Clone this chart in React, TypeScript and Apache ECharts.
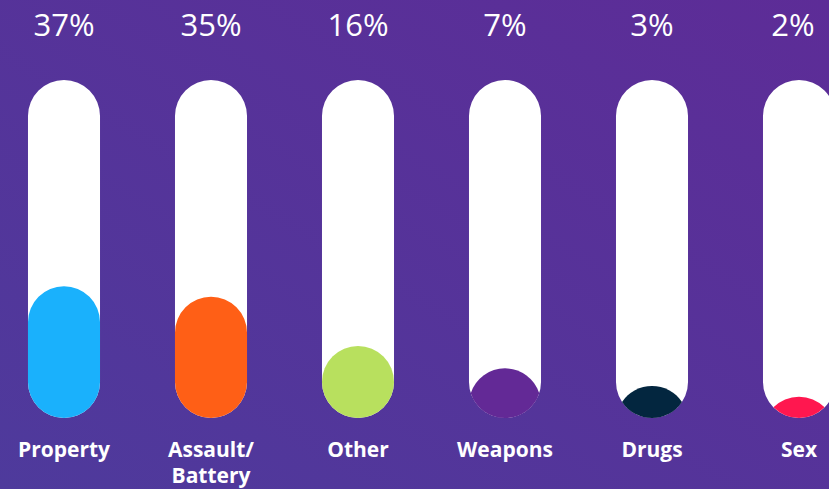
import React, { useEffect, useRef } from "react";
import * as echarts from "echarts";

const categories = ["Property", "Assault/\nBattery", "Other", "Weapons", "Drugs", "Sex"];
const shares = [37, 35, 16, 7, 3, 2];
// visible fill level of each tube, in % of tube height
const fillLevels = [39, 35.9, 21.3, 14.7, 9.5, 6.3];
const fillColors = ["#1ab1fc", "#ff5f16", "#b8e05e", "#632996", "#03263f", "#ff174f"];

export default function App() {
  const ref = useRef<HTMLDivElement>(null);
  useEffect(() => {
    if (!ref.current) return;
    const chart = echarts.init(ref.current, null, { renderer: "svg" });
    const tubeRatio = 0.49;
    const chartWidth = chart.getWidth();
    chart.setOption({
      animation: false,
      backgroundColor: {
        type: "linear",
        x: 0,
        y: 1,
        x2: 1,
        y2: 0,
        colorStops: [
          { offset: 0, color: "#4e3a9c" },
          { offset: 1, color: "#5d2c97" },
        ],
      },
      grid: { left: -9.5, width: 882, top: 80, bottom: 71, outerBoundsMode: "none", containLabel: false },
      xAxis: {
        type: "category",
        data: categories,
        axisLine: { show: false },
        axisTick: { show: false },
        axisLabel: {
          interval: 0,
          color: "#ffffff",
          fontFamily: "Open Sans",
          fontWeight: "bold",
          fontSize: 21,
          lineHeight: 26,
          margin: 18,
        },
      },
      yAxis: { type: "value", min: 0, max: 100, show: false },
      series: [
        {
          type: "custom",
          data: categories.map((_, i) => [i, 100]),
          renderItem: (params: any, api: any) => {
            const i = api.value(0);
            const [x, yb] = api.coord([i, 0]);
            const yt = api.coord([i, api.value(1)])[1];
            const w = api.size([1, 0])[0] * tubeRatio;
            return {
              type: "group",
              children: [
                {
                  type: "rect",
                  shape: { x: x - w / 2, y: yt, width: w, height: yb - yt, r: w / 2 },
                  style: { fill: "#ffffff" },
                },
                {
                  type: "text",
                  x: Math.min(x, chartWidth - 36),
                  y: 24,
                  style: {
                    text: shares[params.dataIndex] + "%",
                    fill: "#ffffff",
                    fontFamily: "Open Sans",
                    fontSize: 31,
                    fontWeight: 500,
                    align: "center",
                    verticalAlign: "middle",
                  },
                },
              ],
            };
          },
        },
        {
          type: "custom",
          data: fillLevels.map((v, i) => [i, v]),
          renderItem: (params: any, api: any) => {
            const i = api.value(0);
            const [x, yb] = api.coord([i, 0]);
            const yt = api.coord([i, api.value(1)])[1];
            const w = api.size([1, 0])[0] * tubeRatio;
            const r = w / 2;
            const h = yb - yt;
            const color = fillColors[params.dataIndex];
            if (h >= 2 * r) {
              return {
                type: "rect",
                shape: { x: x - r, y: yt, width: w, height: h, r },
                style: { fill: color },
              };
            }
            const c1 = yb - r;
            const c2 = yt + r;
            const d = c2 - c1;
            const ym = (c1 + c2) / 2;
            const hw = Math.sqrt(Math.max(r * r - (d * d) / 4, 0));
            const pathData = `M ${x - hw} ${ym} A ${r} ${r} 0 0 1 ${x + hw} ${ym} A ${r} ${r} 0 0 1 ${x - hw} ${ym} Z`;
            return {
              type: "path",
              shape: { pathData },
              style: { fill: color },
            };
          },
        },
      ],
    });
    return () => chart.dispose();
  }, []);
  return (
    <div
      ref={ref}
      style={{ position: "absolute", left: 0, top: 0, width: 829, height: 489 }}
    />
  );
}
